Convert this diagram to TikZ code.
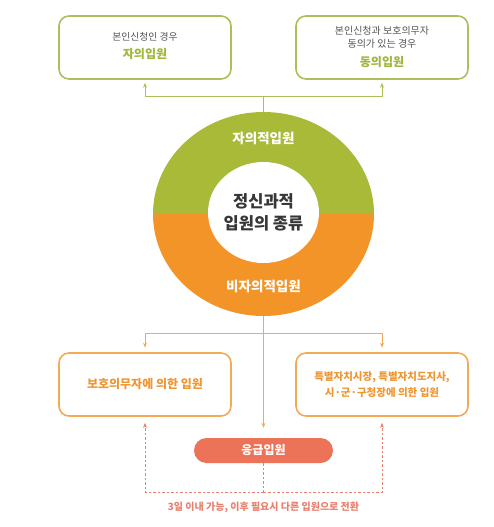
\documentclass[tikz,border=0pt]{standalone}
\usepackage{fontspec}
\newfontfamily\kr{Noto Sans CJK KR}
\usetikzlibrary{shapes.geometric,arrows.meta}
\definecolor{ringgreen}{RGB}{168,186,56}
\definecolor{boxgreen}{RGB}{172,192,90}
\definecolor{txtgreen}{RGB}{158,182,58}
\definecolor{ringorange}{RGB}{243,148,40}
\definecolor{boxorange}{RGB}{242,170,86}
\definecolor{txtorange}{RGB}{238,150,50}
\definecolor{pill}{RGB}{236,115,88}
\definecolor{dashc}{RGB}{233,128,110}
\definecolor{darktxt}{RGB}{55,55,55}
\definecolor{graytxt}{RGB}{85,85,85}
\tikzset{
  gbox/.style={draw=boxgreen,line width=1.6pt,rounded corners=10pt,minimum width=172pt,minimum height=63pt,inner sep=0pt},
  obox/.style={draw=boxorange,line width=1.6pt,rounded corners=10pt,minimum width=172pt,minimum height=63pt,inner sep=0pt},
  gline/.style={draw=boxgreen,line width=1pt},
  oline/.style={draw=boxorange,line width=1pt},
  dline/.style={draw=dashc,line width=1pt,dash pattern=on 2.5pt off 2pt},
  tip/.style={-{Stealth[length=5pt,width=4pt]}},
  lbl/.style={inner sep=0pt,font=\kr},
}
\begin{document}
\begin{tikzpicture}[x=1pt,y=-1pt]
\useasboundingbox (0,0) rectangle (493,527);
% ring
\fill[ringgreen] (263.5,214) ++(-110.5,0) arc[start angle=180,end angle=360,x radius=110.5,y radius=102] -- cycle;
\fill[ringorange] (263.5,214) ++(110.5,0) arc[start angle=0,end angle=180,x radius=110.5,y radius=102] -- cycle;
\fill[white] (263.5,212.5) ellipse[x radius=55.5,y radius=50.5];
\node[ellipse,minimum width=221pt,minimum height=204pt,inner sep=0pt] (ring) at (263.5,214) {};
\node[lbl,text=white,font=\kr\bfseries\fontsize{13.5}{16}\selectfont] (vol) at (263.5,138) {자의적입원};
\node[lbl,text=white,font=\kr\bfseries\fontsize{13.5}{16}\selectfont] (invol) at (263.5,286) {비자의적입원};
\node[lbl,text=darktxt,font=\kr\bfseries\fontsize{16.5}{19}\selectfont] (c1) at (263.5,201) {정신과적};
\node[lbl,text=darktxt,font=\kr\bfseries\fontsize{16.5}{19}\selectfont] (c2) at (263.5,223) {입원의 종류};
% top boxes
\node[gbox] (tl) at (145,47.5) {};
\node[gbox] (tr) at (382,47.5) {};
\node[lbl,text=graytxt,font=\kr\fontsize{9.8}{11}\selectfont] (tl1) at (145,37) {본인신청인 경우};
\node[lbl,text=txtgreen,font=\kr\bfseries\fontsize{12}{14}\selectfont] (tl2) at (145,54) {자의입원};
\node[lbl,text=graytxt,font=\kr\fontsize{10}{11}\selectfont] (tr1) at (382,31) {본인신청과 보호의무자};
\node[lbl,text=graytxt,font=\kr\fontsize{10}{11}\selectfont] (tr2) at (382,44) {동의가 있는 경우};
\node[lbl,text=txtgreen,font=\kr\bfseries\fontsize{12}{14}\selectfont] (tr3) at (382,62) {동의입원};
% bottom boxes
\node[obox] (bl) at (145,384.5) {};
\node[obox] (br) at (382,384.5) {};
\node[lbl,text=txtorange,font=\kr\bfseries\fontsize{12}{14}\selectfont] (bl1) at (145,384) {보호의무자에 의한 입원};
\node[lbl,text=txtorange,font=\kr\bfseries\fontsize{10.5}{12}\selectfont] (br1) at (382,377) {특별자치시장, 특별자치도지사,};
\node[lbl,text=txtorange,font=\kr\bfseries\fontsize{10.5}{12}\selectfont] (br2) at (382,393) {시·군·구청장에 의한 입원};
% emergency pill
\node[fill=pill,rounded corners=12.5pt,minimum width=139pt,minimum height=25pt,inner sep=0pt,text=white,font=\kr\bfseries\fontsize{12}{14}\selectfont] (em) at (263.5,450.5) {응급입원};
\node[lbl,text=dashc,font=\kr\bfseries\fontsize{10}{12}\selectfont] (note) at (263.5,507) {3일 이내 가능, 이후 필요시 다른 입원으로 전환};
% connectors
\coordinate (gj) at (263.5,96);
\draw[gline] (ring.north) -- (gj);
\draw[gline,tip,shorten >=3pt] (gj) -| (tl.south);
\draw[gline,tip,shorten >=3pt] (gj) -| (tr.south);
\coordinate (oj) at (263.5,333);
\draw[oline] (ring.south) -- (oj);
\draw[oline,tip,shorten >=4.5pt] (oj) -| (bl.north);
\draw[oline,tip,shorten >=4.5pt] (oj) -| (br.north);
\draw[oline,tip,shorten >=10pt] (oj) -- (em.north);
\coordinate (dj) at (263.5,492);
\draw[dline] (em.south) -- (dj);
\draw[dline,tip,shorten >=6pt] (dj) -| (bl.south);
\draw[dline,tip,shorten >=6pt] (dj) -| (br.south);
\end{tikzpicture}
\end{document}
